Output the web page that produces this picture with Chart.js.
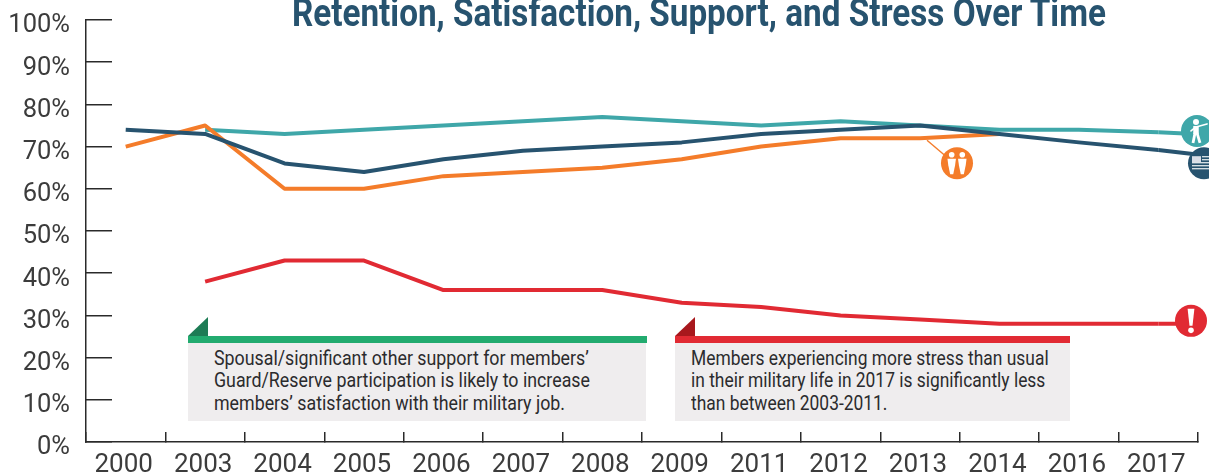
<!DOCTYPE html>
<html>
<head>
<meta charset="utf-8">
<style>
html,body{margin:0;padding:0;background:#fff;overflow:hidden}
#wrap{position:relative;width:1209px;height:473px;overflow:hidden}
canvas{position:absolute;left:0;top:0}
.title{position:absolute;left:292px;top:-9px;font:700 38px Roboto,sans-serif;color:#27536f;white-space:nowrap;transform-origin:0 0;transform:scaleX(.875)}
.bar{position:absolute;top:336px;height:7px}
.box{position:absolute;top:343px;height:78px;background:#efedee}
.tri{position:absolute;top:317px;width:20px;height:19px;clip-path:polygon(0 100%,100% 0,100% 100%)}
.note{position:absolute;top:347px;font:400 20px/22.4px Roboto,sans-serif;color:#2b2b2d;white-space:nowrap;transform-origin:0 0}
</style>
</head>
<body>
<div id="wrap">
<canvas id="c" width="1209" height="473"></canvas>
<div class="title">Retention, Satisfaction, Support, and Stress Over Time</div>
<div class="tri" style="left:188px;background:#1d7c55"></div>
<div class="bar" style="left:188px;width:459px;background:#22ab6f"></div>
<div class="box" style="left:188px;width:458px"></div>
<div class="note" style="left:214px;transform:scaleX(.89)">Spousal/significant other support for members’<br>Guard/Reserve participation is likely to increase<br>members’ satisfaction with their military job.</div>
<div class="tri" style="left:675px;background:#a8181d"></div>
<div class="bar" style="left:675px;width:395px;background:#e12a33"></div>
<div class="box" style="left:675px;width:395px"></div>
<div class="note" style="left:691px;transform:scaleX(.87)">Members experiencing more stress than usual<br>in their military life in 2017 is significantly less<br>than between 2003-2011.</div>
</div>
<script src="https://cdn.jsdelivr.net/npm/chart.js@4/dist/chart.umd.min.js"></script>
<script>
const years = ['2000','2003','2004','2005','2006','2007','2008','2009','2011','2012','2013','2014','2016','2017'];
const retention = [null,74,73,74,75,76,77,76,75,76,75,74,74,73.4];
const satisfaction = [74,73,66,64,67,69,70,71,73,74,75,73,71,69.2];
const support = [70,75,60,60,63,64,65,67,70,72,72,73,null,null];
const stress = [null,38,43,43,36,36,36,33,32,30,29,28,28,28];
const retentionEnd = 73;
const satisfactionEnd = 68.2;
const stressEnd = 28;

const TEAL='#3fa7a9',NAVY='#27536f',ORANGE='#f47c2a',RED='#e12a33',INK='#2a2a2a';
const FONT='"Liberation Sans Narrow","Roboto",sans-serif';

function person(ctx,x,y,w,h){
  ctx.beginPath();ctx.arc(x,y-h*.38,w*.33,0,7);ctx.fill();
  ctx.beginPath();
  ctx.moveTo(x-w*.5,y-h*.2);ctx.lineTo(x+w*.5,y-h*.2);
  ctx.lineTo(x+w*.4,y+h*.1);ctx.lineTo(x+w*.18,y+h*.5);
  ctx.lineTo(x-w*.18,y+h*.5);ctx.lineTo(x-w*.4,y+h*.1);
  ctx.closePath();ctx.fill();
}

const endsAndIcons={
  id:'endsAndIcons',
  afterDatasetsDraw(chart){
    const {ctx,scales:{x,y},chartArea:a}=chart;
    const lastX=x.getPixelForValue(years.length-1);
    const edge=a.right-3;
    const seg=(from,to,col)=>{
      ctx.strokeStyle=col;ctx.lineWidth=4;ctx.lineJoin='round';
      ctx.beginPath();ctx.moveTo(lastX,y.getPixelForValue(from));ctx.lineTo(edge,y.getPixelForValue(to));ctx.stroke();
    };
    const n=years.length-1;
    ctx.save();
    seg(stress[n],stressEnd,RED);
    seg(retention[n],retentionEnd,TEAL);
    seg(satisfaction[n],satisfactionEnd,NAVY);

    const disc=(cx,cy,col)=>{ctx.fillStyle=col;ctx.beginPath();ctx.arc(cx,cy,16,0,7);ctx.fill();};

    // retention icon: soldier
    let cx=edge+2, cy=y.getPixelForValue(retentionEnd)-3;
    disc(cx,cy,TEAL);
    ctx.fillStyle='#fff';
    ctx.beginPath();ctx.arc(cx-1,cy-9,3,0,7);ctx.fill();
    ctx.strokeStyle='#fff';ctx.lineCap='round';ctx.lineWidth=1.6;
    ctx.beginPath();ctx.moveTo(cx-1,cy-4);ctx.lineTo(cx+10,cy-7);ctx.moveTo(cx-1,cy-4);ctx.lineTo(cx-6,cy);ctx.stroke();
    ctx.lineWidth=5.5;ctx.lineCap='butt';
    ctx.beginPath();ctx.moveTo(cx-1,cy-5);ctx.lineTo(cx-1,cy+3);ctx.stroke();
    ctx.lineWidth=2.8;
    ctx.beginPath();ctx.moveTo(cx-2,cy+2);ctx.lineTo(cx-4,cy+12);ctx.moveTo(cx,cy+2);ctx.lineTo(cx+3,cy+12);ctx.stroke();

    // satisfaction icon: flag
    cx=edge+9; cy=y.getPixelForValue(satisfactionEnd)+9;
    disc(cx,cy,NAVY);
    ctx.fillStyle='#d9dde6';ctx.fillRect(cx-12,cy-7,9,6);
    ctx.fillStyle='#fff';
    for(let i=0;i<5;i++){ctx.fillRect(i<2?cx-2:cx-12,cy-7+i*3,24,1.1);}

    // stress icon: exclamation mark
    cx=edge-4; cy=y.getPixelForValue(stressEnd)-3;
    disc(cx,cy,RED);
    ctx.fillStyle='#fff';
    ctx.beginPath();ctx.moveTo(cx-3.4,cy-12);ctx.lineTo(cx+3.4,cy-12);ctx.lineTo(cx+1.5,cy+5);ctx.lineTo(cx-1.5,cy+5);ctx.closePath();ctx.fill();
    ctx.beginPath();ctx.arc(cx,cy+9.5,2.8,0,7);ctx.fill();

    // support icon: couple with leader line
    const sx=x.getPixelForValue(10)+7, sy=y.getPixelForValue(support[10])+2;
    ctx.strokeStyle=ORANGE;ctx.lineWidth=1.4;
    ctx.beginPath();ctx.moveTo(sx,sy);ctx.lineTo(sx+20,sy+17);ctx.stroke();
    cx=sx+30; cy=sy+23;
    disc(cx,cy,ORANGE);
    ctx.fillStyle='#fff';
    person(ctx,cx-5.3,cy,8.5,22);
    person(ctx,cx+5.3,cy,8.5,22);
    ctx.restore();
  }
};

const ds=(label,data,color,order)=>({label,data,borderColor:color,backgroundColor:color,borderWidth:4,pointRadius:0,tension:0,fill:false,order,spanGaps:false,borderJoinStyle:'round',clip:false});

new Chart(document.getElementById('c'),{
  type:'line',
  data:{labels:years,datasets:[
    ds('Retention',retention,TEAL,4),
    ds('Satisfaction',satisfaction,NAVY,1),
    ds('Spousal support',support,ORANGE,2),
    ds('Stress',stress,RED,3)
  ]},
  options:{
    responsive:false,animation:false,
    layout:{padding:{top:20,right:11,left:0,bottom:0}},
    plugins:{legend:{display:false},tooltip:{enabled:false}},
    scales:{
      x:{
        offset:true,
        grid:{offset:true,drawOnChartArea:false,drawTicks:true,tickLength:-10,color:INK,lineWidth:1.5},
        border:{color:INK,width:1.5},
        ticks:{padding:18,labelOffset:-2,maxRotation:0,autoSkip:false,color:'#3c3c3c',font:{family:FONT,size:26}},
        afterFit(s){s.height=31;s.paddingLeft=0;s.paddingRight=0;}
      },
      y:{
        min:0,max:100,
        grid:{drawOnChartArea:false,drawTicks:true,tickLength:-26,color:INK,lineWidth:1.5},
        border:{color:INK,width:1.5},
        ticks:{stepSize:10,padding:42,labelOffset:6,color:'#3c3c3c',font:{family:FONT,size:25.5},callback:v=>v+'%'},
        afterFit(s){s.width=86;s.paddingTop=0;s.paddingBottom=0;}
      }
    }
  },
  plugins:[endsAndIcons]
});
</script>
</body>
</html>
